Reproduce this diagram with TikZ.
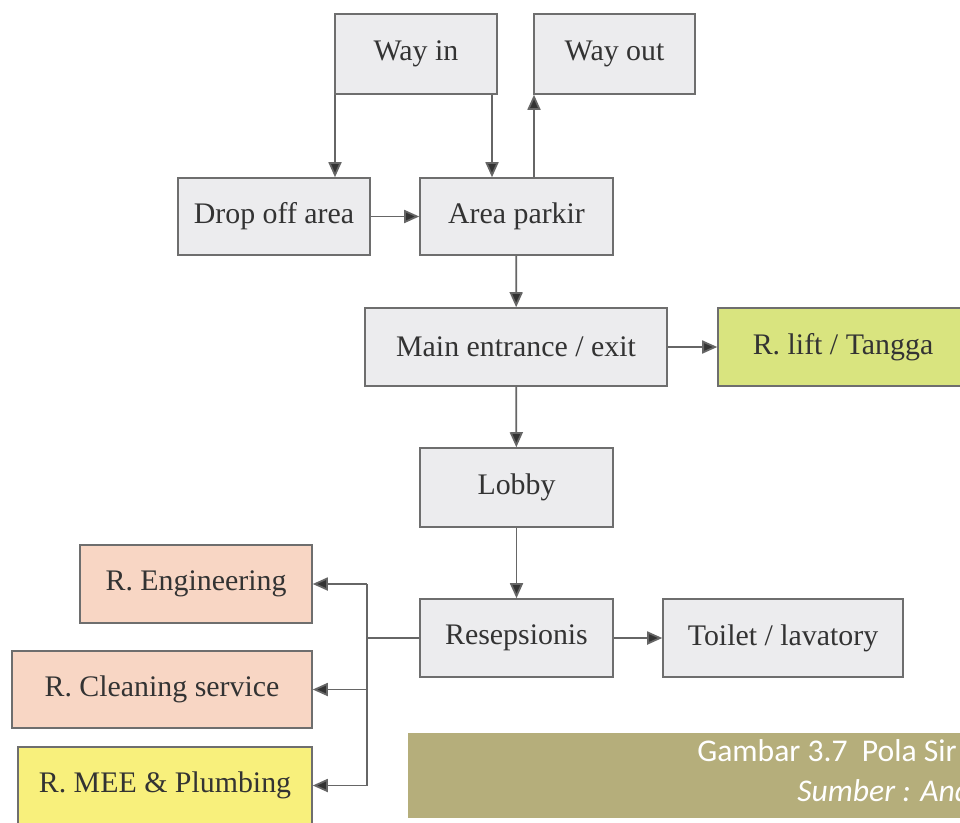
\documentclass[tikz,border=0pt]{standalone}
\usepackage{fontspec}
\setmainfont{Liberation Serif}
\newfontfamily\capfont{Carlito}
\usetikzlibrary{arrows.meta}

\definecolor{boxfill}{HTML}{ECECEE}
\definecolor{boxline}{HTML}{6E6E6E}
\definecolor{boxtext}{HTML}{333333}
\definecolor{wire}{HTML}{666666}
\definecolor{liftfill}{HTML}{D9E47F}
\definecolor{roomfill}{HTML}{F8D6C4}
\definecolor{meefill}{HTML}{F8F07C}
\definecolor{capfill}{HTML}{B5AE7B}

\tikzset{
  room/.style={draw=boxline, line width=0.9pt, fill=boxfill, text=boxtext,
    inner sep=0pt, font=\fontsize{17}{20}\selectfont},
  flow/.style={draw=wire, line width=1pt,
    -{Triangle[length=0.3cm,width=0.26cm,fill=boxtext]}},
  plain/.style={draw=wire, line width=1pt}
}

\begin{document}
\begin{tikzpicture}[x=0.02cm,y=-0.02cm]
\useasboundingbox (0,0) rectangle (960,822);
\clip (0,0) rectangle (960,822);
\fill[white] (0,0) rectangle (960,822);

% entry and parking
\node[room, minimum width=3.24cm, minimum height=1.6cm] (wayin) at (416,54) {Way in};
\node[room, minimum width=3.22cm, minimum height=1.6cm] (wayout) at (614.5,54) {Way out};
\node[room, minimum width=3.84cm, minimum height=1.54cm] (drop) at (274,216.5) {Drop off area};
\node[room, minimum width=3.86cm, minimum height=1.54cm] (parkir) at (516.5,216.5) {Area parkir};

% main axis
\node[room, minimum width=6.04cm, minimum height=1.56cm] (main) at (516,347) {Main entrance / exit};
\node[room, fill=liftfill, minimum width=5cm, minimum height=1.56cm] (lift) at (843,347) {R. lift / Tangga};
\node[room, minimum width=3.86cm, minimum height=1.58cm] (lobby) at (516.5,487.5) {Lobby};
\node[room, minimum width=3.86cm, minimum height=1.56cm] (resep) at (516.5,638) {Resepsionis};
\node[room, minimum width=4.8cm, minimum height=1.56cm] (toilet) at (783,638) {Toilet / lavatory};

% service rooms
\node[room, fill=roomfill, minimum width=4.64cm, minimum height=1.56cm] (eng) at (196,584) {R. Engineering};
\node[room, fill=roomfill, minimum width=6cm, minimum height=1.54cm] (clean) at (162,689.5) {R. Cleaning service};
\node[room, fill=meefill, minimum width=5.88cm, minimum height=1.54cm] (mee) at (165,785.5) {R. MEE \& Plumbing};

% vertical lanes of the upper connectors
\coordinate (laneA) at (335,0);
\coordinate (laneB) at (492,0);
\coordinate (laneC) at (534,0);

% connectors
\draw[flow] (laneA |- wayin.south) -- (laneA |- drop.north);
\draw[flow] (laneB |- wayin.south) -- (laneB |- parkir.north);
\draw[flow] (laneC |- parkir.north) -- (laneC |- wayout.south);
\draw[flow] (drop) -- (parkir);
\draw[flow] (parkir) -- (main);
\draw[flow] (main) -- (lift);
\draw[flow] (main) -- (lobby);
\draw[flow] (lobby) -- (resep);
\draw[flow] (resep) -- (toilet);

\coordinate (branch) at (367,638);
\draw[plain] (resep.west) -- (branch);
\draw[plain] (branch |- eng.east) -- (branch |- mee.east);
\draw[flow] (branch |- eng.east) -- (eng.east);
\draw[flow] (branch |- clean.east) -- (clean.east);
\draw[flow] (branch |- mee.east) -- (mee.east);

% caption band
\fill[capfill] (408,733) rectangle (970,818);
\node[anchor=base west, text=white, inner sep=0pt, font=\capfont\fontsize{18}{21}\selectfont]
  (captitle) at (697,761) {Gambar 3.7\hspace{0.45em}Pola Sir};
\node[anchor=base west, text=white, inner sep=0pt, font=\capfont\itshape\fontsize{18}{21}\selectfont]
  (capsrc) at (797,801) {Sumber : And};
\end{tikzpicture}
\end{document}
